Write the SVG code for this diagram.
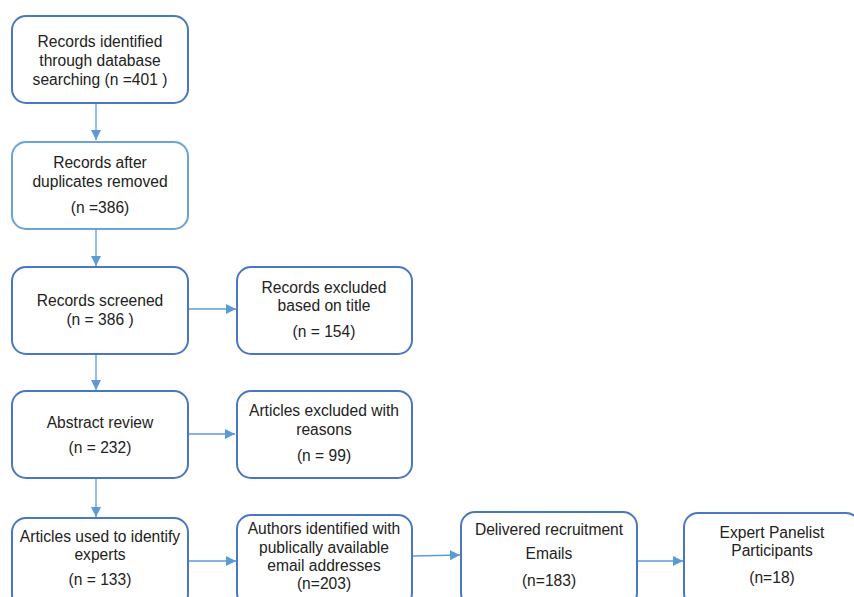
<svg xmlns="http://www.w3.org/2000/svg" width="854" height="597" viewBox="0 0 854 597">
<defs>
<style>
.box{fill:#fff;stroke:#4a76c2;stroke-width:2}
.box2{fill:#fff;stroke:#69a3d8;stroke-width:2}
.t{font-family:"Liberation Sans",Arial,sans-serif;font-size:15.6px;fill:#222;text-anchor:middle}
.c{stroke:#5b9bd5;stroke-width:1.3;fill:none;marker-end:url(#ah)}
</style>
<marker id="ah" viewBox="0 0 10 10" refX="10" refY="5" markerWidth="10" markerHeight="10" markerUnits="userSpaceOnUse" orient="auto">
<path d="M0,0 L10,5 L0,10 z" fill="#5b9bd5"/>
</marker>
</defs>
<rect width="854" height="597" fill="#fff"/>
<g id="connectors">
<line class="c" x1="96" y1="104" x2="96" y2="140"/>
<line class="c" x1="96" y1="230" x2="96" y2="266"/>
<line class="c" x1="96" y1="355" x2="96" y2="390"/>
<line class="c" x1="96" y1="479" x2="96" y2="517"/>
<line class="c" x1="189" y1="309" x2="236" y2="309"/>
<line class="c" x1="189" y1="434" x2="235" y2="434"/>
<line class="c" x1="189" y1="561" x2="236" y2="561"/>
<line class="c" x1="413" y1="556" x2="460" y2="555"/>
<line class="c" x1="633" y1="561" x2="683" y2="561"/>
</g>
<g id="n1"><rect class="box" x="12" y="16" width="176" height="87" rx="14"/>
<text class="t" x="100" y="47">Records identified</text>
<text class="t" x="100" y="66">through database</text>
<text class="t" x="100" y="85">searching (n =401 )</text></g>
<g id="n2"><rect class="box2" x="12" y="142" width="176" height="87" rx="14"/>
<text class="t" x="100" y="168">Records after</text>
<text class="t" x="100" y="187">duplicates removed</text>
<text class="t" x="100" y="213">(n =386)</text></g>
<g id="n3"><rect class="box" x="12" y="267" width="176" height="87" rx="14"/>
<text class="t" x="100" y="306">Records screened</text>
<text class="t" x="100" y="325">(n = 386 )</text></g>
<g id="n4"><rect class="box" x="237" y="267" width="175" height="87" rx="14"/>
<text class="t" x="324" y="293">Records excluded</text>
<text class="t" x="324" y="311">based on title</text>
<text class="t" x="324" y="337">(n = 154)</text></g>
<g id="n5"><rect class="box" x="12" y="391" width="176" height="87" rx="14"/>
<text class="t" x="100" y="428">Abstract review</text>
<text class="t" x="100" y="453">(n = 232)</text></g>
<g id="n6"><rect class="box" x="237" y="391" width="175" height="87" rx="14"/>
<text class="t" x="324" y="416">Articles excluded with</text>
<text class="t" x="324" y="435">reasons</text>
<text class="t" x="324" y="461">(n = 99)</text></g>
<g id="n7"><rect class="box" x="12" y="518" width="176" height="90" rx="14"/>
<text class="t" x="100" y="542">Articles used to identify</text>
<text class="t" x="100" y="560">experts</text>
<text class="t" x="100" y="585">(n = 133)</text></g>
<g id="n8"><rect class="box" x="237" y="515" width="175" height="92" rx="14"/>
<text class="t" x="324" y="534">Authors identified with</text>
<text class="t" x="324" y="553">publically available</text>
<text class="t" x="324" y="571">email addresses</text>
<text class="t" x="324" y="589">(n=203)</text></g>
<g id="n9"><rect class="box" x="461" y="512" width="176" height="95" rx="14"/>
<text class="t" x="549" y="535">Delivered recruitment</text>
<text class="t" x="549" y="559">Emails</text>
<text class="t" x="549" y="586">(n=183)</text></g>
<g id="n10"><rect class="box" x="684" y="513" width="176" height="94" rx="14"/>
<text class="t" x="772" y="538">Expert Panelist</text>
<text class="t" x="772" y="556">Participants</text>
<text class="t" x="772" y="583">(n=18)</text></g>
</svg>
